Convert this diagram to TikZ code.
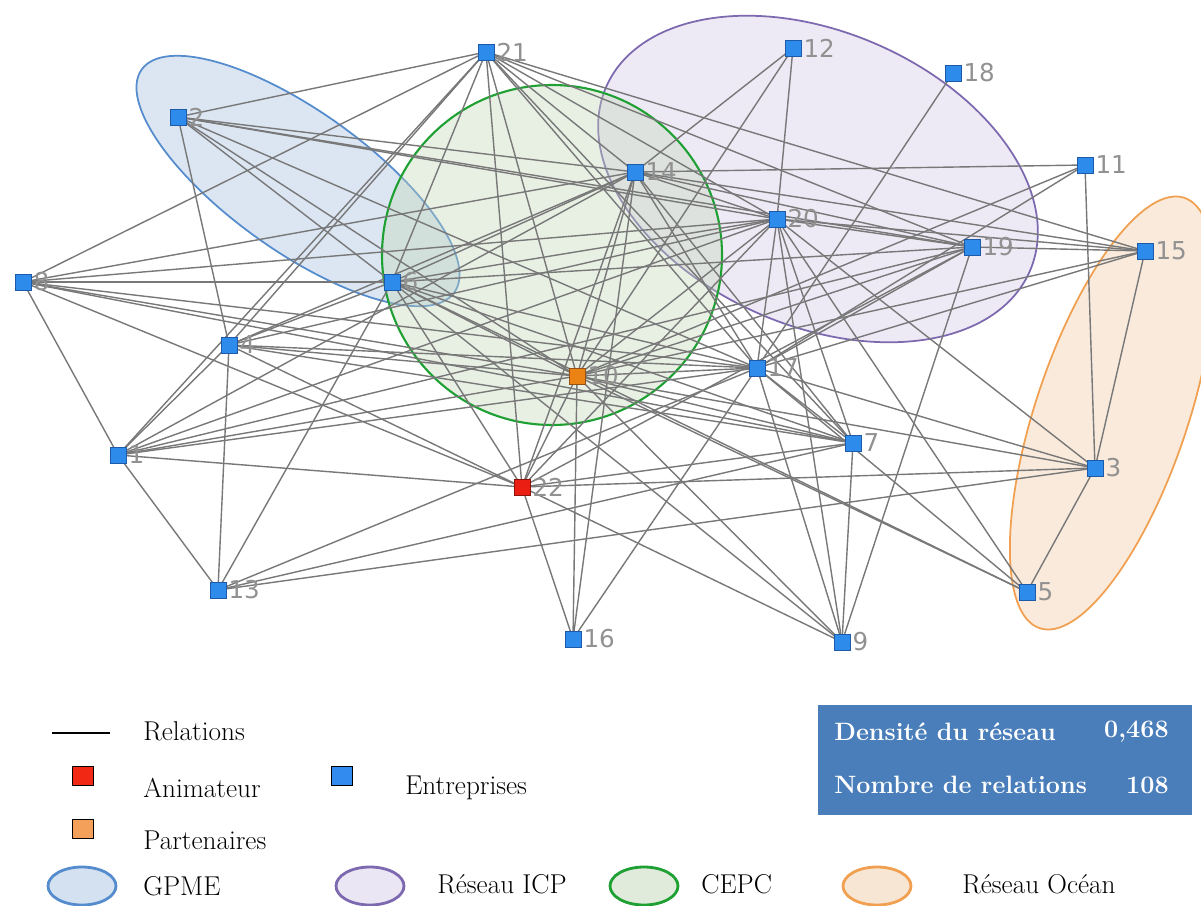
\documentclass[tikz,border=0pt]{standalone}
\usepackage{fontspec}
\newfontfamily\lblfont{DejaVu Sans}
\definecolor{nblue}{RGB}{45,140,235}
\definecolor{nblueb}{RGB}{30,90,170}
\definecolor{norange}{RGB}{235,130,20}
\definecolor{norangeb}{RGB}{150,80,20}
\definecolor{nred}{RGB}{235,30,20}
\definecolor{nredb}{RGB}{140,20,10}
\definecolor{edgegray}{RGB}{120,120,120}
\definecolor{lblgray}{RGB}{145,145,145}
\definecolor{gpmefill}{RGB}{170,195,225}
\definecolor{gpmedraw}{RGB}{85,140,205}
\definecolor{cepcfill}{RGB}{195,215,185}
\definecolor{cepcdraw}{RGB}{30,160,50}
\definecolor{icpfill}{RGB}{215,205,232}
\definecolor{icpdraw}{RGB}{125,105,175}
\definecolor{oceanfill}{RGB}{240,205,170}
\definecolor{oceandraw}{RGB}{240,160,80}
\definecolor{boxblue}{RGB}{74,126,187}
\definecolor{legred}{RGB}{240,40,20}
\definecolor{legblue}{RGB}{50,140,240}
\definecolor{legorange}{RGB}{245,160,90}
\pgfdeclarelayer{ellayer}
\pgfdeclarelayer{edgelayer}
\pgfsetlayers{ellayer,edgelayer,main}
\begin{document}
\begin{tikzpicture}[x=0.02cm,y=-0.02cm,
  ent/.style={rectangle,draw=nblueb,fill=nblue,line width=0.5pt,minimum size=0.32cm,inner sep=0pt},
  part/.style={ent,draw=norangeb,fill=norange},
  anim/.style={ent,draw=nredb,fill=nred},
  lbl/.style={font=\lblfont\fontsize{14}{16}\selectfont,text=lblgray,inner sep=1pt},
  edge/.style={draw=edgegray,line width=0.8pt},
  legtxt/.style={font=\fontsize{15.5}{18}\selectfont,anchor=west,inner sep=0pt},
  boxtxt/.style={font=\bfseries\fontsize{14.3}{17}\selectfont,text=white,inner sep=0pt},
  legsq/.style={rectangle,draw=black,line width=1pt,minimum width=0.42cm,minimum height=0.38cm,inner sep=0pt},
  legell/.style={line width=1.6pt,fill opacity=0.5},
  grp/.style={line width=1pt,fill opacity=0.42}
]
\useasboundingbox (0,0) rectangle (1201,906);

% nodes
\node[ent,label={[lbl]right:21}] (n21) at (486,52) {};
\node[ent,label={[lbl]right:12}] (n12) at (793,48) {};
\node[ent,label={[lbl]right:18}] (n18) at (953,73) {};
\node[ent,label={[lbl]right:2}] (n2) at (178,117) {};
\node[ent,label={[lbl]right:14}] (n14) at (635,172) {};
\node[ent,label={[lbl]right:11}] (n11) at (1085,165) {};
\node[ent,label={[lbl]right:20}] (n20) at (777,219) {};
\node[ent,label={[lbl]right:19}] (n19) at (972,247) {};
\node[ent,label={[lbl]right:15}] (n15) at (1145,251) {};
\node[ent,label={[lbl]right:8}] (n8) at (23,282) {};
\node[ent,label={[lbl]right:6}] (n6) at (392,282) {};
\node[ent,label={[lbl]right:4}] (n4) at (229,345) {};
\node[part,label={[lbl]right:10}] (n10) at (577,376) {};
\node[ent,label={[lbl]right:17}] (n17) at (757,368) {};
\node[ent,label={[lbl]right:1}] (n1) at (118,455) {};
\node[ent,label={[lbl]right:7}] (n7) at (853,443) {};
\node[ent,label={[lbl]right:3}] (n3) at (1095,468) {};
\node[anim,label={[lbl]right:22}] (n22) at (522,487) {};
\node[ent,label={[lbl]right:13}] (n13) at (218,590) {};
\node[ent,label={[lbl]right:5}] (n5) at (1027,592) {};
\node[ent,label={[lbl]right:16}] (n16) at (573,639) {};
\node[ent,label={[lbl]right:9}] (n9) at (842,642) {};

% group ellipses
\begin{pgfonlayer}{ellayer}
\filldraw[grp,fill=gpmefill,draw=gpmedraw,rotate around={-35.5:(298,181)}] (298,181) ellipse (192 and 70);
\filldraw[grp,fill=icpfill,draw=icpdraw,rotate around={-23.5:(818,179)}] (818,179) ellipse (231 and 147);
\filldraw[grp,fill=oceanfill,draw=oceandraw,rotate around={71.4:(1112,413)}] (1112,413) ellipse (227 and 76);
\filldraw[grp,fill=cepcfill,draw=cepcdraw,line width=1.2pt,fill opacity=0.38] (552,255) circle (170);
\end{pgfonlayer}

% relations
\begin{pgfonlayer}{edgelayer}
\foreach \a/\b in {21/2,21/8,21/4,21/1,21/6,21/14,21/10,21/22,21/17,21/7,21/20,21/19,21/15,
  12/14,12/20,12/10,20/5,18/17,11/14,11/3,11/17,11/10,
  2/4,2/14,2/20,2/19,2/6,2/10,2/17,9/6,
  8/1,8/6,8/14,8/20,8/10,8/17,8/22,8/7,
  14/6,14/4,14/1,14/10,14/22,14/16,14/17,14/7,14/20,14/19,14/15,
  20/6,20/4,20/1,20/10,20/17,20/22,20/9,20/7,20/3,20/19,20/15,
  19/6,9/10,19/1,19/10,19/22,19/17,19/9,19/15,
  15/3,15/17,15/10,
  6/4,6/10,6/17,6/7,6/5,6/13,6/22,
  4/13,4/10,4/17,4/7,4/22,4/1,
  10/1,10/22,10/17,10/16,10/7,10/5,10/3,
  17/1,17/7,17/3,17/5,17/16,17/13,17/9,
  1/13,1/22,22/7,22/3,22/16,22/9,13/7,13/3,7/9,3/5}
  \draw[edge] (n\a.center) -- (n\b.center);
\end{pgfonlayer}

% legend
\coordinate (relA) at (52,733);
\coordinate (relB) at (110,733);
\draw[black,line width=1.5pt] (relA) -- (relB);
\node[legtxt] (tRel) at (143,731) {Relations};
\node[legsq,fill=legred] (sqAnim) at (83,776) {};
\node[legtxt] (tAnim) at (143,788) {Animateur};
\node[legsq,fill=legblue] (sqEnt) at (342,776) {};
\node[legtxt] (tEnt) at (405,788) {Entreprises};
\node[legsq,fill=legorange] (sqPart) at (83,829) {};
\node[legtxt] (tPart) at (143,840) {Partenaires};
\filldraw[legell,fill=gpmefill,draw=gpmedraw] (82,886) ellipse (34 and 19);
\node[legtxt] (tGPME) at (143,886) {GPME};
\filldraw[legell,fill=icpfill,draw=icpdraw] (370,886) ellipse (34 and 19);
\node[legtxt] (tICP) at (437,884) {Réseau ICP};
\filldraw[legell,fill=cepcfill,draw=cepcdraw] (644,886) ellipse (34 and 19);
\node[legtxt] (tCEPC) at (701,884) {CEPC};
\filldraw[legell,fill=oceanfill,draw=oceandraw] (877,886) ellipse (34 and 19);
\node[legtxt] (tOcean) at (962,884) {Réseau Océan};

% statistics box
\fill[boxblue] (818,705) rectangle (1192,815);
\node[boxtxt,anchor=west] (tDens) at (834,732) {Densité du réseau};
\node[boxtxt,anchor=east] (vDens) at (1169,732) {0,468};
\node[boxtxt,anchor=west] (tNb) at (834,785) {Nombre de relations};
\node[boxtxt,anchor=east] (vNb) at (1169,785) {108};
\end{tikzpicture}
\end{document}
